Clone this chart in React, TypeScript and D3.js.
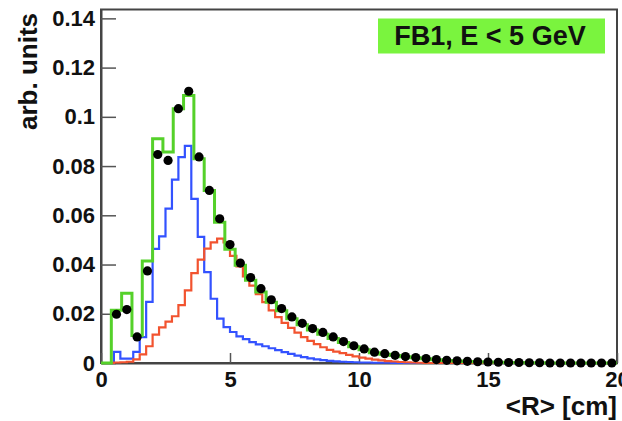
import * as d3 from "d3";
import React, { useEffect, useRef } from "react";

// green histogram, 50 bins of 0.4 cm
const greenHist = [
  0, 0.0214, 0.0283, 0.0112, 0.0414, 0.0911, 0.0857, 0.1033, 0.1087, 0.083,
  0.0701, 0.0572, 0.0462, 0.0397, 0.0336, 0.0288, 0.0247, 0.0212, 0.018, 0.0155,
  0.0134, 0.0117, 0.01, 0.0083, 0.0066, 0.0054, 0.0042, 0.0036, 0.003, 0.0025,
  0.0021, 0.0017, 0.0013, 0.001, 0.0008, 0.0006, 0.0005, 0.0004, 0.0003, 0.0002,
  0.0002, 0.0001, 0.0001, 0, 0, 0, 0, 0, 0, 0,
];

// black points, same binning (first bin not drawn)
const dataPoints = [
  null, 0.0198, 0.0217, 0.0106, 0.0374, 0.0847, 0.0823, 0.1033, 0.1104, 0.0837,
  0.0701, 0.0586, 0.0481, 0.0406, 0.0347, 0.0302, 0.0257, 0.0221, 0.0187, 0.0161,
  0.014, 0.0124, 0.0106, 0.0087, 0.007, 0.0057, 0.0044, 0.0038, 0.0031, 0.0026,
  0.0022, 0.0018, 0.0014, 0.0011, 0.0009, 0.0007, 0.0005, 0.0004, 0.0003, 0.0002,
  0.0002, 0.0001, 0.0001, 0, 0, 0, 0, 0, 0, 0,
];

// blue histogram, 80 bins of 0.25 cm
const blueHist = [
  0, 0, 0.0045, 0.0018, 0.0018, 0.0045, 0.0105, 0.0248, 0.0464, 0.0514,
  0.0627, 0.0745, 0.0836, 0.0882, 0.0667, 0.0512, 0.0369, 0.0261, 0.018, 0.0146,
  0.0126, 0.0108, 0.0097, 0.0085, 0.0076, 0.0068, 0.006, 0.0052, 0.0044, 0.0037,
  0.003, 0.0024, 0.0019, 0.0015, 0.0012, 0.0009, 0.0007, 0.0005, 0.0004, 0.0003,
  0.0002, 0.0002, 0.0001, 0.0001, 0.0001, 0, 0, 0, 0, 0,
  0, 0, 0, 0, 0, 0, 0, 0, 0, 0,
  0, 0, 0, 0, 0, 0, 0, 0, 0, 0,
  0, 0, 0, 0, 0, 0, 0, 0, 0, 0,
];

// red histogram, 80 bins of 0.25 cm
const redHist = [
  0, 0, 0.0002, 0.0003, 0.0005, 0.0015, 0.0035, 0.0068, 0.0115, 0.0145,
  0.0168, 0.019, 0.0235, 0.0295, 0.0365, 0.042, 0.0465, 0.049, 0.0505, 0.049,
  0.0435, 0.0392, 0.0352, 0.0314, 0.028, 0.0247, 0.0214, 0.0186, 0.0163, 0.0143,
  0.0123, 0.0105, 0.009, 0.0077, 0.0064, 0.0053, 0.0046, 0.004, 0.0033, 0.0027,
  0.0022, 0.0018, 0.0014, 0.0011, 0.0008, 0.0006, 0.0004, 0.0003, 0.0002, 0.0001,
  0, 0, 0, 0, 0, 0, 0, 0, 0, 0,
  0, 0, 0, 0, 0, 0, 0, 0, 0, 0,
  0, 0, 0, 0, 0, 0, 0, 0, 0, 0,
];

const xTicks = [0, 5, 10, 15, 20];
const yTicks = [0, 0.02, 0.04, 0.06, 0.08, 0.1, 0.12, 0.14];
const yTickLabels = ["0", "0.02", "0.04", "0.06", "0.08", "0.1", "0.12", "0.14"];
const legendLabel = "FB1, E < 5 GeV";
const xTitle = "<R> [cm]";
const yTitle = "arb. units";

const FONT = "'Liberation Sans', Arial, Helvetica, sans-serif";

const App = () => {
  const svgRef = useRef(null);

  useEffect(() => {
    const width = 622;
    const height = 421;
    const left = 101;
    const right = 617;
    const top = 9.5;
    const bottom = 363;

    const svg = d3.select(svgRef.current);
    svg.selectAll("*").remove();
    svg.attr("width", width).attr("height", height);

    const x = d3.scaleLinear().domain([0, 20]).range([left, right]);
    const y = d3.scaleLinear().domain([0, 0.1436]).range([bottom, top]);

    // frame
    svg
      .append("rect")
      .attr("x", left)
      .attr("y", top)
      .attr("width", right - left)
      .attr("height", bottom - top)
      .attr("fill", "none")
      .attr("stroke", "#444")
      .attr("stroke-width", 2);

    // y axis: major + minor ticks pointing inside
    const yAxis = svg.append("g").attr("transform", `translate(${left},0)`);
    yAxis.call(
      d3
        .axisLeft(y)
        .tickValues(d3.range(0, 0.1426, 0.005))
        .tickSizeInner(-8)
        .tickSizeOuter(0)
        .tickFormat(() => "")
    );
    yAxis.call(
      d3
        .axisLeft(y)
        .tickValues(yTicks)
        .tickSizeInner(-15)
        .tickSizeOuter(0)
        .tickPadding(6)
        .tickFormat((d, i) => yTickLabels[i])
    );

    // x axis
    const xAxis = svg.append("g").attr("transform", `translate(0,${bottom})`);
    xAxis.call(
      d3
        .axisBottom(x)
        .tickValues(d3.range(0, 20.01, 1))
        .tickSizeInner(-5)
        .tickSizeOuter(0)
        .tickFormat(() => "")
    );
    xAxis.call(
      d3
        .axisBottom(x)
        .tickValues(xTicks)
        .tickSizeInner(-10)
        .tickSizeOuter(0)
        .tickPadding(8)
        .tickFormat(d3.format("d"))
    );

    svg.selectAll(".domain").attr("stroke", "#444").attr("stroke-width", 2);
    svg.selectAll(".tick line").attr("stroke", "#555").attr("stroke-width", 1.5);
    svg
      .selectAll(".tick text")
      .attr("fill", "#111")
      .attr("font-family", FONT)
      .attr("font-weight", "bold")
      .attr("font-size", 22);

    // step histogram outline
    const stepPoints = (vals, binW) => {
      const pts = [[0, 0]];
      vals.forEach((v, i) => {
        pts.push([i * binW, v]);
        pts.push([(i + 1) * binW, v]);
      });
      pts.push([vals.length * binW, 0]);
      return pts;
    };

    const line = d3
      .line()
      .x((d) => x(d[0]))
      .y((d) => y(d[1]));

    const drawHist = (vals, binW, color, w) => {
      svg
        .append("path")
        .datum(stepPoints(vals, binW))
        .attr("fill", "none")
        .attr("stroke", color)
        .attr("stroke-width", w)
        .attr("stroke-linejoin", "miter")
        .attr("d", line);
    };

    drawHist(blueHist, 0.25, "#3352ff", 2.2);
    drawHist(redHist, 0.25, "#f2532f", 2.2);
    drawHist(greenHist, 0.4, "#55d12a", 3);

    // data points
    svg
      .append("g")
      .selectAll("circle")
      .data(dataPoints.map((v, i) => ({ v, c: (i + 0.5) * 0.4 })).filter((d) => d.v !== null))
      .join("circle")
      .attr("cx", (d) => x(d.c))
      .attr("cy", (d) => y(d.v))
      .attr("r", 4.6)
      .attr("fill", "#000");

    // legend box
    const leg = svg.append("g");
    leg
      .append("rect")
      .attr("x", 378)
      .attr("y", 18.5)
      .attr("width", 227)
      .attr("height", 35)
      .attr("fill", "#7af43e");
    leg
      .append("text")
      .attr("x", 490)
      .attr("y", 45)
      .attr("text-anchor", "middle")
      .attr("font-family", FONT)
      .attr("font-weight", "bold")
      .attr("font-size", 27)
      .attr("fill", "#111")
      .text(legendLabel);

    // axis titles
    svg
      .append("text")
      .attr("x", 617)
      .attr("y", 415)
      .attr("text-anchor", "end")
      .attr("font-family", FONT)
      .attr("font-weight", "bold")
      .attr("font-size", 26)
      .attr("fill", "#111")
      .text(xTitle);

    svg
      .append("text")
      .attr("transform", "translate(37,13) rotate(-90)")
      .attr("text-anchor", "end")
      .attr("font-family", FONT)
      .attr("font-weight", "bold")
      .attr("font-size", 26)
      .attr("fill", "#111")
      .text(yTitle);
  }, []);

  return (
    <div style={{ position: "fixed", left: 0, top: 0, background: "#fff" }}>
      <svg ref={svgRef}></svg>
    </div>
  );
};

export default App;
